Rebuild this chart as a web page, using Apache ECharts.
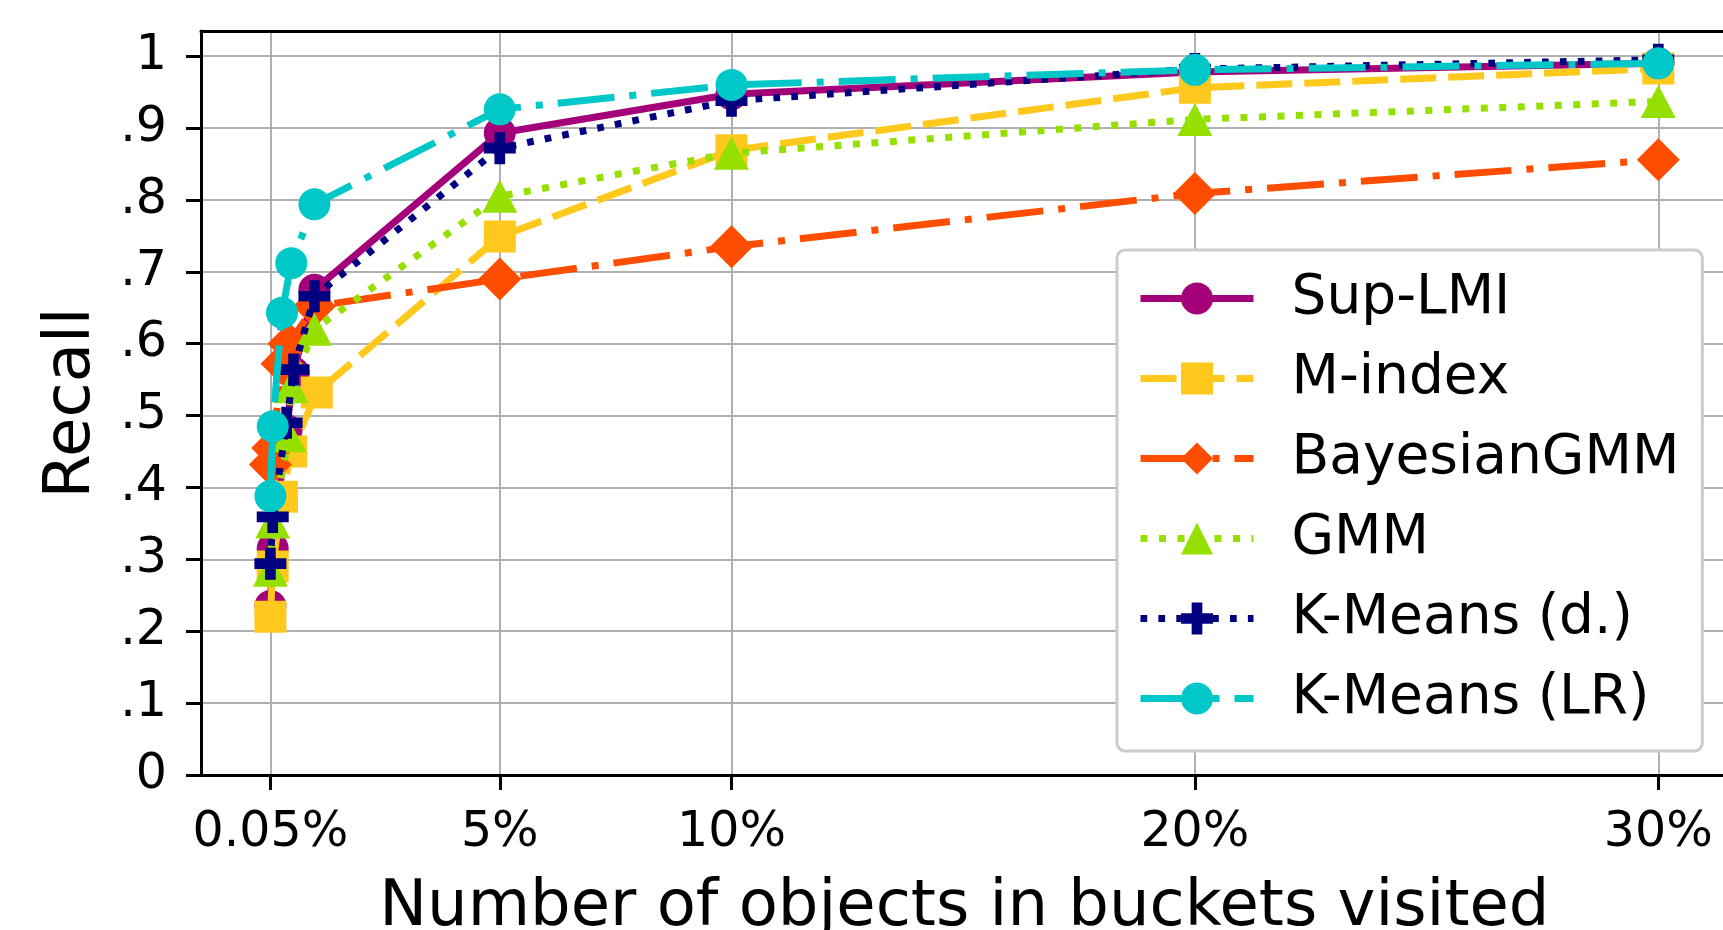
<!DOCTYPE html>
<html>
<head>
<meta charset="utf-8">
<script src="https://cdn.jsdelivr.net/npm/echarts@6/dist/echarts.min.js"></script>
<style>
html,body{margin:0;padding:0;background:#fff;}
#chart{width:1723px;height:930px;}
</style>
</head>
<body>
<div id="chart"></div>
<script>
// ---- Data (x in % of objects, y = recall) ----
const xTickValues = [0.05, 5, 10, 20, 30];
const xTickLabels = ['0.05%', '5%', '10%', '20%', '30%'];
const yTickValues = [0, 0.1, 0.2, 0.3, 0.4, 0.5, 0.6, 0.7, 0.8, 0.9, 1];
const yTickLabels = ['0', '.1', '.2', '.3', '.4', '.5', '.6', '.7', '.8', '.9', '1'];

const seriesNames = ['Sup-LMI', 'M-index', 'BayesianGMM', 'GMM', 'K-Means (d.)', 'K-Means (LR)'];

const supLmiX = [0.05, 0.1, 0.4, 0.55, 1.0, 5, 10, 20, 30];
const supLmiY = [0.235, 0.315, 0.48, 0.56, 0.675, 0.893, 0.947, 0.978, 0.99];

const mIndexX = [0.05, 0.1, 0.3, 0.5, 1.05, 5, 10, 20, 30];
const mIndexY = [0.22, 0.29, 0.387, 0.45, 0.532, 0.749, 0.869, 0.956, 0.983];

const bayesGmmX = [0.05, 0.1, 0.3, 0.45, 1.0, 5, 10, 20, 30];
const bayesGmmY = [0.432, 0.455, 0.572, 0.600, 0.652, 0.690, 0.735, 0.809, 0.856];

const gmmX = [0.05, 0.1, 0.45, 0.5, 1.0, 5, 10, 20, 30];
const gmmY = [0.285, 0.352, 0.472, 0.54, 0.62, 0.805, 0.865, 0.912, 0.937];

const kmDX = [0.05, 0.1, 0.4, 0.55, 1.0, 5, 10, 20, 30];
const kmDY = [0.294, 0.359, 0.49, 0.564, 0.666, 0.872, 0.938, 0.982, 0.995];

const kmLrX = [0.05, 0.1, 0.3, 0.5, 1.0, 5, 10, 20, 30];
const kmLrY = [0.388, 0.485, 0.643, 0.712, 0.794, 0.926, 0.96, 0.981, 0.99];

// ---- Styles ----
const FONT = 'DejaVu Sans';
const LW = 7;
const PLUS = 'path://M1,0L2,0L2,1L3,1L3,2L2,2L2,3L1,3L1,2L0,2L0,1L1,1Z';
const styles = [
  {color: '#a4007a', dash: 'solid', symbol: 'circle', size: 32},
  {color: '#ffc81c', dash: [36, 12], symbol: 'rect', size: 32},
  {color: '#ff4d00', dash: [57, 15, 7, 15], symbol: 'diamond', size: 43},
  {color: '#95e000', dash: [7, 11.5], symbol: 'triangle', size: [35, 33]},
  {color: '#000080', dash: [6.7, 11.2], symbol: PLUS, size: 32},
  {color: '#00c8c8', dash: [57, 15, 7, 15], symbol: 'circle', size: 32}
];
const xs = [supLmiX, mIndexX, bayesGmmX, gmmX, kmDX, kmLrX];
const ys = [supLmiY, mIndexY, bayesGmmY, gmmY, kmDY, kmLrY];

function lookup(vals, labels, v) {
  for (let i = 0; i < vals.length; i++) if (Math.abs(vals[i] - v) < 1e-9) return labels[i];
  return '';
}

const chart = echarts.init(document.getElementById('chart'), null, {renderer: 'canvas'});

const option = {
  animation: false,
  backgroundColor: '#fff',
  textStyle: {fontFamily: FONT},
  grid: {left: 201, top: 31, width: 1526.7, height: 744, show: false, containLabel: false, outerBoundsMode: 'none'},
  xAxis: [{
    type: 'value', min: -1.4475, max: 31.4975,
    name: 'Number of objects in buckets visited', nameLocation: 'middle', nameGap: 101,
    nameTextStyle: {fontSize: 64, color: '#000', fontFamily: FONT},
    axisLine: {show: true, onZero: false, lineStyle: {color: '#000', width: 3}},
    axisTick: {show: true, inside: false, length: 15, customValues: xTickValues, lineStyle: {color: '#000', width: 3}},
    axisLabel: {show: true, customValues: xTickValues, margin: 34, fontSize: 49, color: '#000', fontFamily: FONT,
      formatter: v => lookup(xTickValues, xTickLabels, v)},
    splitLine: {show: true, lineStyle: {color: '#b0b0b0', width: 2}}
  }, {
    type: 'value', position: 'top', min: -1.4475, max: 31.4975,
    axisLine: {show: true, onZero: false, lineStyle: {color: '#000', width: 3}},
    axisTick: {show: false}, axisLabel: {show: false}, splitLine: {show: false}
  }],
  yAxis: {
    type: 'value', min: 0, max: 1.035,
    name: 'Recall', nameLocation: 'middle', nameRotate: 90, nameGap: 97,
    nameTextStyle: {fontSize: 64, color: '#000', fontFamily: FONT},
    axisLine: {show: true, onZero: false, lineStyle: {color: '#000', width: 3}},
    axisTick: {show: true, inside: false, length: 15, customValues: yTickValues, lineStyle: {color: '#000', width: 3}},
    axisLabel: {show: true, customValues: yTickValues, margin: 34, fontSize: 49, color: '#000', fontFamily: FONT,
      formatter: v => lookup(yTickValues, yTickLabels, v)},
    splitLine: {show: true, lineStyle: {color: '#b0b0b0', width: 2}}
  },
  legend: {
    orient: 'vertical', left: 1117, top: 250, z: 20,
    padding: [21, 23, 25, 20], itemWidth: 113, itemHeight: 40, itemGap: 25,
    backgroundColor: '#fff', borderColor: '#cccccc', borderWidth: 3, borderRadius: 8,
    textStyle: {fontSize: 55, color: '#000', lineHeight: 40, padding: [0, 0, 0, 33], fontFamily: FONT},
    lineStyle: {width: 'inherit'},
    selectedMode: false,
    data: seriesNames
  },
  series: seriesNames.map((name, i) => ({
    name: name,
    type: 'line',
    xAxisIndex: 0,
    z: 2 + i,
    silent: true,
    clip: false,
    data: xs[i].map((x, k) => [x, ys[i][k]]),
    symbol: styles[i].symbol,
    symbolSize: styles[i].size,
    showAllSymbol: true,
    itemStyle: {color: styles[i].color, borderWidth: 0},
    lineStyle: {color: styles[i].color, width: LW, type: styles[i].dash, cap: 'butt', join: 'miter'},
    emphasis: {disabled: true}
  }))
};
chart.setOption(option);
</script>
</body>
</html>
